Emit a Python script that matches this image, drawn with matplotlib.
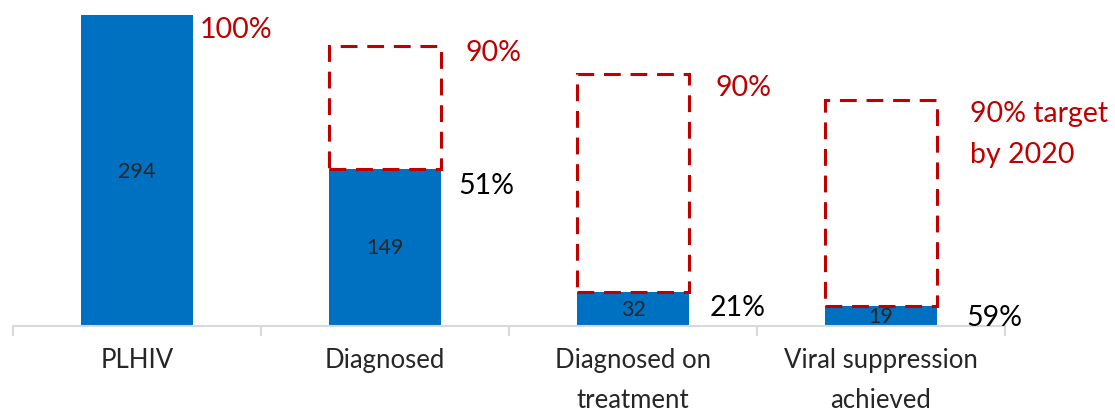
import matplotlib.pyplot as plt
import matplotlib
from matplotlib.patches import Rectangle

matplotlib.rcParams['font.family'] = ['Lato', 'DejaVu Sans']

categories = ['PLHIV', 'Diagnosed', 'Diagnosed on\ntreatment', 'Viral suppression\nachieved']
values = [294, 149, 32, 19]
targets = [None, 265, 238, 214]          # 90% target level for each stage
target_labels = ['100%', '90%', '90%', '90% target\nby 2020']
achieved_labels = [None, '51%', '21%', '59%']

blue = '#0070C0'
red = '#C00000'
grey = '#D9D9D9'

fig = plt.figure(figsize=(11.15, 4.14), dpi=100)
ax = fig.add_axes([0.0117, 0.21, 0.8897, 0.766])

x = range(len(categories))
width = 0.455
bars = ax.bar(x, values, width=width, color=blue, zorder=2)

# value labels inside the bars
for i, v in enumerate(values):
    ax.text(i, v / 2, str(v), ha='center', va='center', fontsize=15.5, color='#262626')

# dashed target boxes
for i, t in enumerate(targets):
    if t is None:
        continue
    rect = Rectangle((i - width / 2, values[i]), width, t - values[i], fill=False,
                     edgecolor=red, linewidth=2.2, linestyle=(0, (5.5, 3.2)), zorder=3)
    ax.add_patch(rect)

# red target labels
red_pos = [(0.254, 281), (1.323, 259), (2.331, 226), (3.359, 182)]
for (tx, ty), lab in zip(red_pos, target_labels):
    ax.text(tx, ty, lab, ha='left', va='center', fontsize=20.5, color=red, linespacing=1.7)

# black achieved labels
black_pos = [None, (1.294, 133), (2.31, 18), (3.343, 8.5)]
for pos, lab in zip(black_pos, achieved_labels):
    if lab is None:
        continue
    ax.text(pos[0], pos[1], lab, ha='left', va='center', fontsize=20.5, color='black')

ax.set_xlim(-0.5, 3.5)
ax.set_ylim(0, 300)

for s in ['top', 'right', 'left']:
    ax.spines[s].set_visible(False)
ax.spines['bottom'].set_color(grey)
ax.spines['bottom'].set_linewidth(1.5)
ax.set_yticks([])

ax.set_xticks([-0.5, 0.5, 1.5, 2.5, 3.5])
ax.set_xticklabels([])
ax.tick_params(axis='x', which='major', length=7, color=grey, width=1.5)
ax.set_xticks(list(x), minor=True)
ax.set_xticklabels(categories, minor=True, fontsize=18.5, color='#262626', linespacing=1.78)
ax.tick_params(axis='x', which='minor', length=0, pad=15)

fig.savefig('out.png', dpi=100)
